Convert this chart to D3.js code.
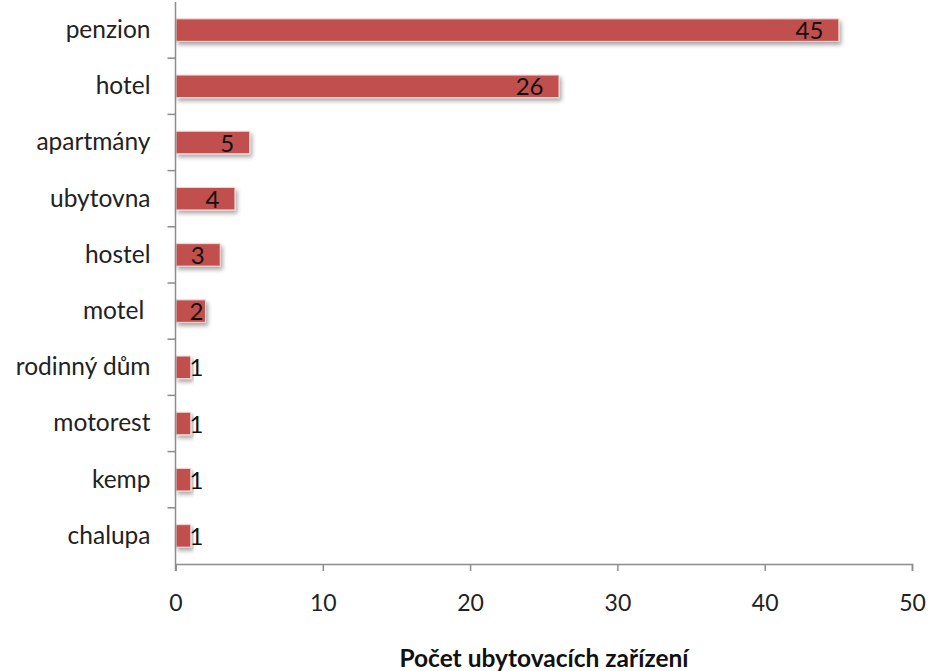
<!DOCTYPE html>
<html><head><meta charset="utf-8">
<script src="https://cdn.jsdelivr.net/npm/d3@7"></script>
<style>body{margin:0;background:#fff}svg{display:block}</style>
</head><body>
<script>
const categories = ["penzion","hotel","apartmány","ubytovna","hostel","motel ","rodinný dům","motorest","kemp","chalupa"];
const values = [45,26,5,4,3,2,1,1,1,1];
const xTicks = [0,10,20,30,40,50];
const xTitle = "Počet ubytovacích zařízení";

const W = 930, H = 671;
const m = {left:175.5, right:18, top:2, bottom:107};
const svg = d3.select("body").append("svg").attr("width",W).attr("height",H);
const defs = svg.append("defs");
const f = defs.append("filter").attr("id","sh").attr("x","-20%").attr("y","-50%").attr("width","140%").attr("height","220%");
f.append("feDropShadow").attr("dx",2).attr("dy",3).attr("stdDeviation",2).attr("flood-color","#000").attr("flood-opacity",0.35);

const x = d3.scaleLinear().domain([0,50]).range([m.left, W - m.right]);
const y = d3.scaleBand().domain(categories).range([m.top, H - m.bottom]).paddingInner(0.6).paddingOuter(0.3);
const yb = d3.scaleBand().domain(categories).range([m.top, H - m.bottom]);

const font = "Lato, 'Open Sans', sans-serif";

// bars
svg.append("g").selectAll("rect").data(categories).join("rect")
  .attr("x", x(0)+0.5).attr("y", d=>y(d))
  .attr("width", (d,i)=>x(values[i])-x(0))
  .attr("height", y.bandwidth())
  .attr("fill","#C0504D").attr("stroke","#f3d6d5").attr("stroke-width",1)
  .attr("filter","url(#sh)");

// value labels
svg.append("g").selectAll("text").data(categories).join("text")
  .attr("x",(d,i)=>Math.max(x(values[i])-15, x(0)+28))
  .attr("y",d=>y(d)+y.bandwidth()/2)
  .attr("dy","0.38em").attr("text-anchor","end")
  .attr("font-family",font).attr("font-size",24).attr("fill","#111")
  .text((d,i)=>values[i]);

// x axis
const gx = svg.append("g").attr("transform",`translate(0,${H-m.bottom})`)
  .call(d3.axisBottom(x).tickValues(xTicks).tickSize(7).tickPadding(24).tickFormat(d3.format("d")));
gx.select(".domain").attr("stroke","#8c8c8c").attr("stroke-width",1.5);
gx.selectAll(".tick line").attr("stroke","#8c8c8c").attr("stroke-width",1.5);
gx.selectAll("text").attr("font-family",font).attr("font-size",23).attr("fill","#222");

// y axis
const gy = svg.append("g").attr("transform",`translate(${m.left},0)`)
  .call(d3.axisLeft(yb).tickSize(0).tickPadding(25));
gy.select(".domain").attr("stroke","#8c8c8c").attr("stroke-width",1.5).attr("d",`M0,${m.top}V${H-m.bottom+7}`);
gy.selectAll("text").attr("font-family",font).attr("font-size",24.5).attr("fill","#222").style("white-space","pre");
// tick marks between categories
svg.append("g").selectAll("line").data(categories.slice(1)).join("line")
  .attr("x1",m.left-8).attr("x2",m.left).attr("y1",d=>yb(d)).attr("y2",d=>yb(d))
  .attr("stroke","#8c8c8c").attr("stroke-width",1.5);

// title
svg.append("text").attr("x",544).attr("y",667).attr("text-anchor","middle")
  .attr("font-family",font).attr("font-weight","bold").attr("font-size",24.5).attr("fill","#111")
  .text(xTitle);
</script>
</body></html>
